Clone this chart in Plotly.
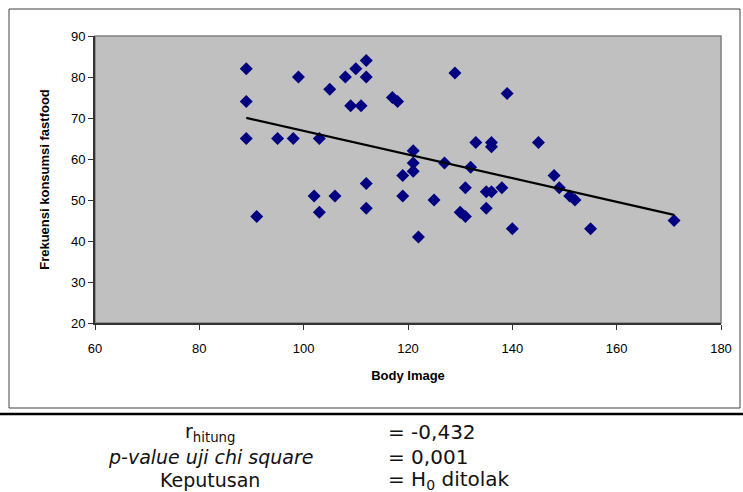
import numpy as np
import plotly.graph_objects as go

body_image = [89, 89, 89, 91, 95, 98, 99, 102, 103, 103, 105, 106, 108, 109, 110, 111,
              112, 112, 112, 112, 117, 118, 119, 119, 121, 121, 121, 122, 125, 127, 129,
              131, 130, 131, 133, 132, 135, 135, 136, 136, 136, 138, 139, 140, 145, 148,
              149, 151, 152, 155, 171]
fastfood = [82, 74, 65, 46, 65, 65, 80, 51, 65, 47, 77, 51, 80, 73, 82, 73,
            84, 80, 54, 48, 75, 74, 56, 51, 62, 59, 57, 41, 50, 59, 81,
            53, 47, 46, 64, 58, 52, 48, 64, 63, 52, 53, 76, 43, 64, 56,
            53, 51, 50, 43, 45]

x_ticks = [60, 80, 100, 120, 140, 160, 180]
y_ticks = [20, 30, 40, 50, 60, 70, 80, 90]

stat_labels = ["r<sub>hitung</sub>", "<i>p-value uji chi square</i>", "Keputusan"]
stat_values = ["= -0,432", "= 0,001", "= H<sub>0</sub> ditolak"]

W, H = 743, 492
L, R, T, B = 95, 22, 36, 169
PW, PH = W - L - R, H - T - B


def px(x):
    return (x - L) / PW


def py(y):
    return (H - B - y) / PH


slope, intercept = np.polyfit(body_image, fastfood, 1)
tx = [min(body_image), max(body_image)]
ty = [slope * v + intercept for v in tx]

fig = go.Figure()
fig.add_trace(go.Scatter(x=body_image, y=fastfood, mode="markers",
                         marker=dict(symbol="diamond", size=10, color="#000080",
                                     line=dict(width=0)),
                         showlegend=False, hoverinfo="skip"))
fig.add_trace(go.Scatter(x=tx, y=ty, mode="lines",
                         line=dict(color="black", width=2.2),
                         showlegend=False, hoverinfo="skip"))

axis_font = dict(family="Liberation Sans, Arial", size=13, color="black")
fig.update_xaxes(range=[60, 180], tickvals=x_ticks, ticks="outside", ticklen=5,
                 tickcolor="#333333", showgrid=False, zeroline=False,
                 showline=True, linecolor="#333333", linewidth=2,
                 tickfont=axis_font, ticklabelstandoff=7,
                 title=dict(text="<b>Body Image</b>", standoff=16,
                            font=dict(family="Liberation Sans, Arial", size=13, color="black")))
fig.update_yaxes(range=[20, 90], tickvals=y_ticks, ticks="outside", ticklen=5,
                 tickcolor="#333333", showgrid=False, zeroline=False,
                 showline=True, linecolor="#333333", linewidth=2,
                 tickfont=axis_font,
                 title=dict(text="<b>Frekuensi konsumsi fastfood</b>", standoff=18,
                            font=dict(family="Liberation Sans Narrow, Liberation Sans, Arial",
                                      size=13, color="black")))

shapes = [
    dict(type="rect", xref="paper", yref="paper", x0=0, y0=0, x1=1, y1=1,
         line=dict(color="#808080", width=1.5), layer="below"),
    dict(type="rect", xref="paper", yref="paper", x0=px(9), x1=px(740),
         y0=py(408), y1=py(9), line=dict(color="#404040", width=1)),
    dict(type="line", xref="paper", yref="paper", x0=px(0), x1=px(743),
         y0=py(414), y1=py(414), line=dict(color="black", width=2.5)),
]

annotations = []
label_font = dict(family="DejaVu Sans", size=19, color="#111111")
value_font = dict(family="DejaVu Sans", size=20, color="#111111")
rows_y = [432, 457, 480]
for lab, val, yy in zip(stat_labels, stat_values, rows_y):
    annotations.append(dict(text=lab, xref="paper", yref="paper", x=px(210), y=py(yy),
                            xanchor="center", yanchor="middle", showarrow=False,
                            font=label_font))
    annotations.append(dict(text=val, xref="paper", yref="paper", x=px(386), y=py(yy),
                            xanchor="left", yanchor="middle", showarrow=False,
                            font=value_font))

fig.update_layout(width=W, height=H, margin=dict(l=L, r=R, t=T, b=B),
                  plot_bgcolor="#C0C0C0", paper_bgcolor="white",
                  shapes=shapes, annotations=annotations, showlegend=False)

fig.write_html("out.html", config={"displayModeBar": False},
               post_script="document.body.style.margin='0';document.body.style.overflow='hidden';")
